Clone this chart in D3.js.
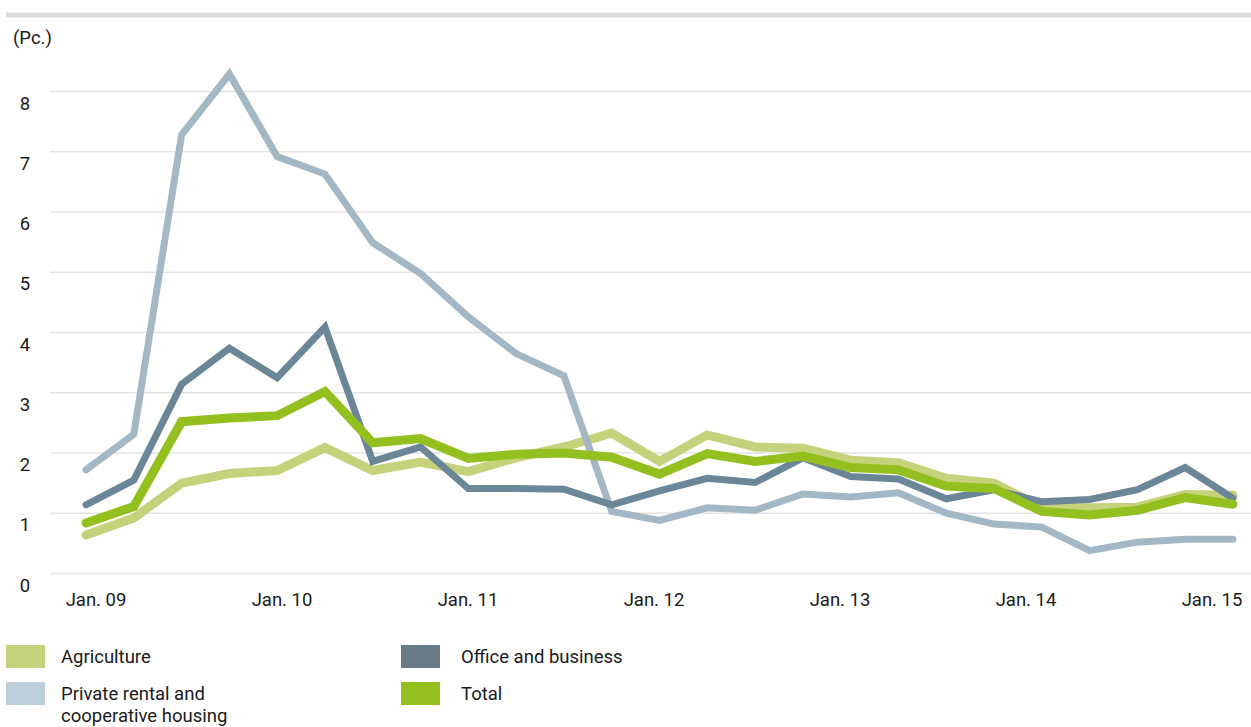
<!DOCTYPE html>
<html><head><meta charset="utf-8">
<script src="https://cdn.jsdelivr.net/npm/d3@7"></script>
<style>
html,body{margin:0;padding:0;background:#fff;}
text{font-family:Roboto,"Noto Sans",sans-serif;fill:#1a1a1a;}
</style></head>
<body><svg id="c" width="1251" height="727"></svg>
<script>
const quarters = d3.range(25).map(i => `Q${i}`);
const tickLabels = ["Jan. 09","Jan. 10","Jan. 11","Jan. 12","Jan. 13","Jan. 14","Jan. 15"];
const yTicks = [0,1,2,3,4,5,6,7,8];
const agriculture = [0.64,0.92,1.50,1.66,1.71,2.09,1.71,1.85,1.69,1.92,2.10,2.33,1.86,2.30,2.10,2.08,1.88,1.84,1.58,1.50,1.10,1.09,1.10,1.31,1.30];
const privateRental = [1.72,2.31,7.28,8.29,6.92,6.63,5.49,4.98,4.26,3.65,3.28,1.03,0.88,1.09,1.05,1.32,1.27,1.34,1.00,0.82,0.77,0.38,0.52,0.57,0.57];
const office = [1.14,1.55,3.14,3.74,3.25,4.09,1.86,2.10,1.41,1.41,1.40,1.14,1.37,1.58,1.51,1.92,1.61,1.57,1.24,1.39,1.19,1.23,1.39,1.76,1.25];
const total = [0.84,1.11,2.52,2.58,2.62,3.02,2.17,2.24,1.91,1.98,2.00,1.93,1.65,1.99,1.86,1.95,1.76,1.72,1.45,1.41,1.03,0.97,1.05,1.26,1.15];

const series = [
  {name:"Agriculture", values:agriculture, color:"#c6d27b", legend:"#c6d27b", w:9},
  {name:"Private rental and\ncooperative housing", values:privateRental, color:"#a3b8c4", legend:"#bccfda", w:7},
  {name:"Office and business", values:office, color:"#6b8797", legend:"#677a85", w:7},
  {name:"Total", values:total, color:"#93c01f", legend:"#93c01f", w:9}
];

const svg = d3.select("#c");
const x = d3.scalePoint().domain(quarters).range([86, 1233]);
const xLab = d3.scalePoint().domain(tickLabels).range([96, 1212]);
const y = d3.scaleLinear().domain([0, 8]).range([573.5, 91.5]);
const fs = 18.5;

// top bar
svg.append("rect").attr("x",6).attr("y",12.5).attr("width",1245).attr("height",5).attr("fill","#dcdcdc");

// gridlines
svg.append("g").selectAll("line").data(yTicks).join("line")
  .attr("x1",50).attr("x2",1251)
  .attr("y1",d=>y(d)).attr("y2",d=>y(d))
  .attr("stroke","#e3e3e3").attr("stroke-width",1.5);

// y labels
svg.append("g").selectAll("text").data(yTicks).join("text")
  .attr("x",25).attr("y",d=>y(d)+18).attr("text-anchor","middle")
  .attr("font-size",fs).text(d=>d);
svg.append("text").attr("x",13).attr("y",44).attr("font-size",fs).text("(Pc.)");

// x labels
svg.append("g").selectAll("text").data(tickLabels).join("text")
  .attr("x",d=>xLab(d)).attr("y",606).attr("text-anchor","middle")
  .attr("font-size",fs).text(d=>d);

// lines
const line = d3.line().x((d,i)=>x(quarters[i])).y(d=>y(d));
svg.append("g").selectAll("path").data(series).join("path")
  .attr("d",d=>line(d.values)).attr("fill","none")
  .attr("stroke",d=>d.color).attr("stroke-width",d=>d.w)
  .attr("stroke-linejoin","miter").attr("stroke-linecap","round");

// legend
const legendPos = [[6,645,61],[6,682,61],[401,645,461],[401,682,461]];
series.forEach((s,i)=>{
  const [lx,ly,tx] = legendPos[i];
  svg.append("rect").attr("x",lx).attr("y",ly).attr("width",39).attr("height",23).attr("fill",s.legend);
  const t = svg.append("text").attr("x",tx).attr("y",ly+18).attr("font-size",fs);
  s.name.split("\n").forEach((ln,j)=>{
    t.append("tspan").attr("x",tx).attr("dy",j===0?0:21.5).text(ln);
  });
});
</script></body></html>
